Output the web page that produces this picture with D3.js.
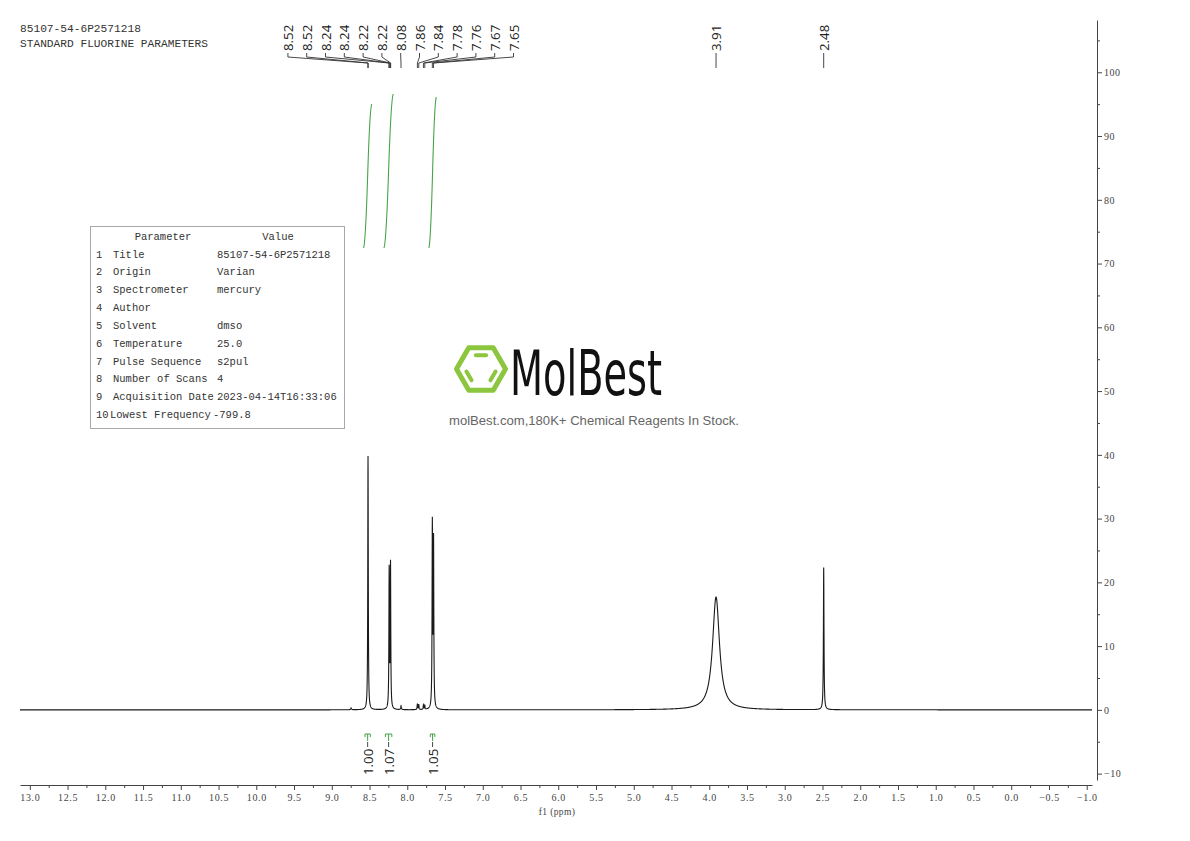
<!DOCTYPE html>
<html><head><meta charset="utf-8">
<script src="https://cdn.jsdelivr.net/npm/d3@7"></script>
<style>body{margin:0;background:#fff}svg{display:block}</style>
</head><body>
<svg id="c" width="1190" height="841"></svg>
<script>
// ---------------- data ----------------
const headerLines = ["85107-54-6P2571218", "STANDARD FLUORINE PARAMETERS"];

const peakPpm    = [8.744, 8.520, 8.240, 8.222, 8.083, 7.866, 7.848, 7.786, 7.768, 7.668, 7.652, 3.910, 2.484];
const peakHeight = [0.3,   39.8,  21.7,  22.5,  0.6,   0.9,   0.8,   0.7,   0.6,   28.6,  25.9,  17.7,  22.3];
const peakHwhm   = [0.006, 0.004, 0.004, 0.004, 0.005, 0.004, 0.004, 0.004, 0.004, 0.0042,0.0042,0.055, 0.0045];

const clusterLabels   = ["8.52","8.52","8.24","8.24","8.22","8.22","8.08","7.86","7.84","7.78","7.76","7.67","7.65"];
const clusterLabelPpm = [8.522, 8.518, 8.243, 8.238, 8.224, 8.220, 8.083, 7.866, 7.848, 7.786, 7.768, 7.668, 7.652];
const singleLabels    = ["3.91", "2.48"];
const singleLabelPpm  = [3.910, 2.484];

const integralFrom   = [8.56, 8.290, 7.695];
const integralTo     = [8.49, 8.205, 7.635];
const integralValues = [1.00, 1.07, 1.05];

const paramNames  = ["Title","Origin","Spectrometer","Author","Solvent","Temperature","Pulse Sequence","Number of Scans","Acquisition Date","Lowest Frequency"];
const paramValues = ["85107-54-6P2571218","Varian","mercury","","dmso","25.0","s2pul","4","2023-04-14T16:33:06","-799.8"];

const xMajorTicks = [13.0,12.5,12.0,11.5,11.0,10.5,10.0,9.5,9.0,8.5,8.0,7.5,7.0,6.5,6.0,5.5,5.0,4.5,4.0,3.5,3.0,2.5,2.0,1.5,1.0,0.5,0.0,-0.5,-1.0];
const yMajorTicks = [-10,0,10,20,30,40,50,60,70,80,90,100];

// ---------------- setup ----------------
const svg = d3.select("#c");
const x = d3.scaleLinear().domain([13.13, -1.07]).range([20, 1092]);
const y = d3.scaleLinear().domain([108.2, -11]).range([20, 780]);
const intY = d3.scaleLinear().domain([0, 1]).range([247, 105]);

const serif = "'Liberation Serif','DejaVu Serif',serif";
const mono = "'Liberation Mono','DejaVu Sans Mono',monospace";
const sans = "'Open Sans','Noto Sans',sans-serif";

// header
svg.append("g").selectAll("text").data(headerLines).join("text")
  .attr("x", 20).attr("y", (d, i) => 32 + i * 14.5)
  .attr("font-family", mono).attr("font-size", 11.2).attr("fill", "#333")
  .text(d => d);

// ---------------- axes ----------------
const minorX = d3.range(-0.75, 13.1, 0.5);
const gxMinor = svg.append("g").attr("transform", "translate(0,785)")
  .call(d3.axisBottom(x).tickValues(minorX).tickSize(3).tickSizeOuter(0).tickFormat(""));
gxMinor.select(".domain").remove();
const gx = svg.append("g").attr("transform", "translate(0,785)")
  .call(d3.axisBottom(x).tickValues(xMajorTicks).tickSize(5).tickSizeOuter(0).tickPadding(4).tickFormat(d3.format(".1f")));
svg.selectAll("g.tick line, .domain").attr("stroke", "#444");
gx.selectAll("text").attr("font-family", serif).attr("font-size", 10).attr("fill", "#444").attr("letter-spacing", "0.6px");

svg.append("text").attr("x", 557).attr("y", 815).attr("text-anchor", "middle")
  .attr("font-family", serif).attr("font-size", 9.5).attr("fill", "#444").attr("letter-spacing", "0.4px").text("f1 (ppm)");

const minorY = d3.range(-5, 108, 10);
const gyMinor = svg.append("g").attr("transform", "translate(1097,0)")
  .call(d3.axisRight(y).tickValues(minorY).tickSize(3).tickSizeOuter(0).tickFormat(""));
gyMinor.select(".domain").remove();
const gy = svg.append("g").attr("transform", "translate(1097,0)")
  .call(d3.axisRight(y).tickValues(yMajorTicks).tickSize(5).tickSizeOuter(0).tickPadding(2));
svg.selectAll("g.tick line, .domain").attr("stroke", "#444");
gy.selectAll("text").attr("font-family", serif).attr("font-size", 10).attr("fill", "#444").attr("letter-spacing", "0.5px");

// ---------------- spectrum ----------------
const spectrum = [];
const N = Math.round((13.13 + 1.07) * 1000);
for (let i = 0; i <= N; i++) {
  const p = 13.13 - i / 1000;
  let v = 0;
  for (let k = 0; k < peakPpm.length; k++) {
    const d = (p - peakPpm[k]) / peakHwhm[k];
    v += peakHeight[k] / (1 + d * d);
  }
  spectrum.push([p, v]);
}
svg.append("path").datum(spectrum)
  .attr("fill", "none").attr("stroke", "#1a1a1a").attr("stroke-width", 1.1)
  .attr("d", d3.line().x(d => x(d[0])).y(d => y(d[1])));

// ---------------- peak labels ----------------
const lblFont = 13.3;
const cFirst = x(clusterLabelPpm[0]), cLast = x(clusterLabelPpm[clusterLabelPpm.length - 1]);
const cCenter = (cFirst + cLast) / 2;
const spacing = 18.8;
const mid = (clusterLabels.length - 1) / 2;
const labelG = svg.append("g");
clusterLabels.forEach((t, i) => {
  const lx = cCenter + (i - mid) * spacing;
  const px = x(clusterLabelPpm[i]);
  labelG.append("text").attr("transform", `translate(${lx},51) rotate(-90)`)
    .attr("dominant-baseline", "central").attr("font-family", sans).attr("font-size", lblFont)
    .attr("fill", "#222").text(t);
  labelG.append("path").attr("fill", "none").attr("stroke", "#333").attr("stroke-width", 0.9)
    .attr("d", `M${lx},53 L${lx},57 L${px},63 L${px},68`);
});
singleLabels.forEach((t, i) => {
  const px = x(singleLabelPpm[i]);
  labelG.append("text").attr("transform", `translate(${px},51) rotate(-90)`)
    .attr("dominant-baseline", "central").attr("font-family", sans).attr("font-size", lblFont)
    .attr("fill", "#222").text(t);
  labelG.append("line").attr("x1", px).attr("x2", px).attr("y1", 53).attr("y2", 68)
    .attr("stroke", "#333").attr("stroke-width", 0.9);
});

// ---------------- integrals ----------------
const green = "#45a445";
const intG = svg.append("g");
integralValues.forEach((v, i) => {
  const x0 = x(integralFrom[i]), x1 = x(integralTo[i]);
  const y0 = intY(0), y1 = intY(v);
  const p = d3.path();
  const dx = x1 - x0;
  p.moveTo(x0 - 1.5, y0 + 1);
  p.bezierCurveTo(x0 + dx * 0.45, y0 - 6, x1 - dx * 0.45, y1 + 6, x1 + 1.5, y1 - 1);
  intG.append("path").attr("d", p.toString()).attr("fill", "none")
    .attr("stroke", green).attr("stroke-width", 1.1);

  const cx = (x0 + x1) / 2;
  intG.append("path").attr("fill", "none").attr("stroke", green).attr("stroke-width", 1)
    .attr("d", `M${x0},737 L${x0},734 L${x1},734 L${x1},737 M${cx},734 L${cx},741`);
  intG.append("line").attr("x1", cx).attr("x2", cx).attr("y1", 742).attr("y2", 747)
    .attr("stroke", "#333").attr("stroke-width", 0.9);
  intG.append("text").attr("transform", `translate(${cx},775) rotate(-90)`)
    .attr("dominant-baseline", "central").attr("font-family", sans).attr("font-size", lblFont)
    .attr("fill", "#222").text(v.toFixed(2));
});

// ---------------- parameter table ----------------
const tbl = svg.append("g");
tbl.append("rect").attr("x", 90.5).attr("y", 226.5).attr("width", 254).attr("height", 202)
  .attr("fill", "#fff").attr("stroke", "#a8a8a8").attr("stroke-width", 1);
const tf = { "font-family": mono, "font-size": 10.5, "fill": "#333" };
function tt(xp, yp, s, anchor) {
  const e = tbl.append("text").attr("x", xp).attr("y", yp).attr("dominant-baseline", "central")
    .attr("text-anchor", anchor || "start").text(s);
  Object.entries(tf).forEach(([k, v]) => e.attr(k, v));
}
tt(163, 237, "Parameter", "middle");
tt(278, 237, "Value", "middle");
paramNames.forEach((n, i) => {
  const yy = 254.5 + i * 17.85;
  tt(96, yy, String(i + 1));
  tt(i === 9 ? 110 : 113, yy, n);
  tt(paramValues[i].startsWith("-") ? 213 : 217, yy, paramValues[i]);
});

// ---------------- logo ----------------
const logo = svg.append("g");
const lg = "#8cc63f";
const hcx = 481, hcy = 369, R = 24.5;
const hex = d3.range(6).map(k => [hcx + R * Math.cos(k * Math.PI / 3), hcy + R * Math.sin(k * Math.PI / 3)]);
logo.append("path").attr("d", "M" + hex.map(p => p.join(",")).join("L") + "Z")
  .attr("fill", "none").attr("stroke", lg).attr("stroke-width", 5).attr("stroke-linejoin", "round");
const Ri = 16;
const inner = d3.range(6).map(k => [hcx + Ri * Math.cos(k * Math.PI / 3), hcy + Ri * Math.sin(k * Math.PI / 3)]);
function bar(a, b) {
  const s = 0.18;
  const p0 = [a[0] + (b[0] - a[0]) * s, a[1] + (b[1] - a[1]) * s];
  const p1 = [a[0] + (b[0] - a[0]) * (1 - s), a[1] + (b[1] - a[1]) * (1 - s)];
  logo.append("line").attr("x1", p0[0]).attr("y1", p0[1]).attr("x2", p1[0]).attr("y2", p1[1])
    .attr("stroke", lg).attr("stroke-width", 4).attr("stroke-linecap", "round");
}
bar(inner[4], inner[5]); // top
bar(inner[2], inner[3]); // lower-left
bar(inner[0], inner[1]); // lower-right
logo.append("text").attr("x", 510).attr("y", 395)
  .attr("font-family", "'Liberation Sans Narrow','DejaVu Sans Condensed','Liberation Sans',sans-serif")
  .attr("font-size", 62).attr("fill", "#111")
  .attr("textLength", 152).attr("lengthAdjust", "spacingAndGlyphs").text("MolBest");
logo.append("text").attr("x", 594).attr("y", 425).attr("text-anchor", "middle")
  .attr("font-family", "'Liberation Sans',Arial,sans-serif").attr("font-size", 13.1).attr("fill", "#666")
  .text("molBest.com,180K+ Chemical Reagents In Stock.");
</script>
</body></html>
